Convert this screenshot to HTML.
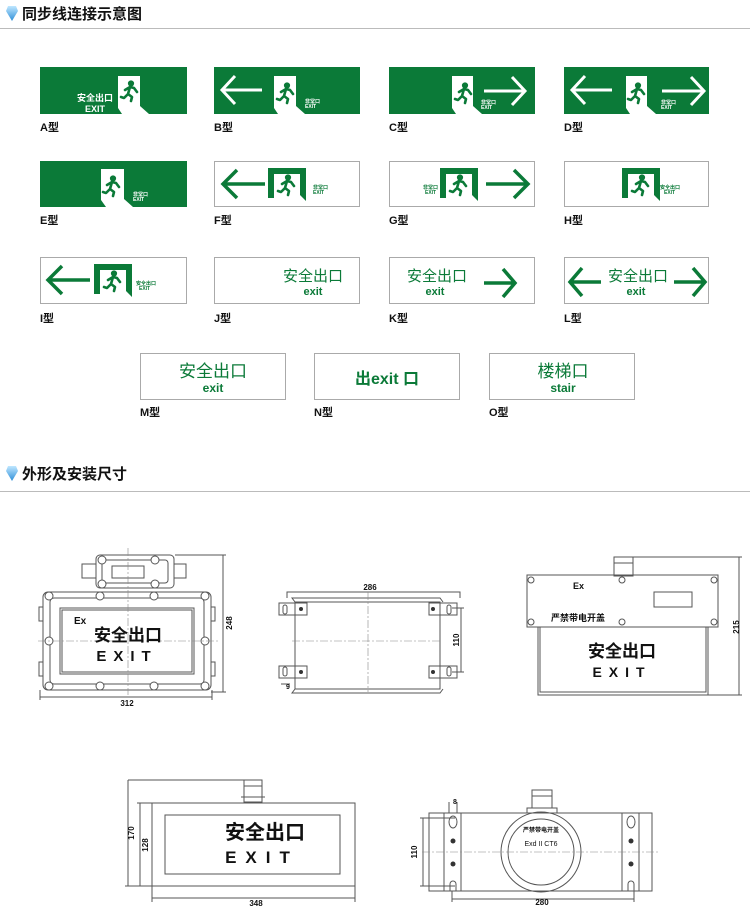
<!DOCTYPE html>
<html><head><meta charset="utf-8"><style>
body{margin:0;background:#fff;width:750px;height:913px;overflow:hidden}
svg{display:block}
.h{font-family:"Liberation Sans","Noto Sans CJK SC",sans-serif;font-weight:bold;font-size:15px;fill:#111}
.lb{font-family:"Liberation Sans","Noto Sans CJK SC",sans-serif;font-weight:bold;font-size:11px;fill:#111}
.gt{font-family:"Liberation Sans","Noto Sans CJK SC",sans-serif;font-weight:bold;fill:#0b7a38}
.gn{font-family:"Liberation Sans","Noto Sans CJK SC",sans-serif;font-weight:500;fill:#0b7a38}
.wt{font-family:"Liberation Sans","Noto Sans CJK SC",sans-serif;font-weight:bold;fill:#fff}
.dt{font-family:"Liberation Sans","Noto Sans CJK SC",sans-serif;fill:#111}
.d{fill:none;stroke:#555;stroke-width:1}
.c{fill:none;stroke:#888;stroke-width:.6;stroke-dasharray:8 2 2 2}
</style></head><body>
<svg width="750" height="913" viewBox="0 0 750 913" xmlns="http://www.w3.org/2000/svg">
<defs>
<g id="man"><circle cx="9" cy="2.5" r="2.6"/><path d="M3 9 L8 6 L12 7 L15 11 M8 6 L6 13 L10 16 L9 20 M6 13 L2 17 L-1 16" fill="none" stroke-width="2.6" stroke-linecap="round" stroke-linejoin="round"/></g>
<linearGradient id="gm" x1="0" y1="0" x2="0" y2="1"><stop offset="0" stop-color="#bfe7ff"/><stop offset="1" stop-color="#2f8fd8"/></linearGradient>
</defs>
<path d="M8 6 L16 6 L18 11 L12 21 L6 11 Z" fill="url(#gm)"/>
<text x="22" y="19" class="h">同步线连接示意图</text>
<line x1="0" y1="28.5" x2="750" y2="28.5" stroke="#bbb"/>
<path d="M8 466 L16 466 L18 471 L12 481 L6 471 Z" fill="url(#gm)"/>
<text x="22" y="479" class="h">外形及安装尺寸</text>
<line x1="0" y1="491.5" x2="750" y2="491.5" stroke="#bbb"/>

<rect x="40" y="67" width="147" height="47" fill="#0b7a38"/>
<path d="M118 76 H140 V106 L149 114 H122 L118 108 Z" fill="#fff"/>
<use href="#man" x="122" y="81" fill="#0b7a38" stroke="#0b7a38"/>
<text x="95" y="101" class="wt" font-size="9" text-anchor="middle">安全出口</text>
<text x="95" y="112" class="wt" font-size="9" text-anchor="middle">EXIT</text>
<text x="40" y="131" class="lb">A型</text>

<rect x="214" y="67" width="146" height="47" fill="#0b7a38"/>
<path d="M262 90 H222 M235 76 L222 90 L235 104" fill="none" stroke="#fff" stroke-width="3"/>
<path d="M274 76 H296 V106 L305 114 H278 L274 108 Z" fill="#fff"/>
<use href="#man" x="278" y="83" fill="#0b7a38" stroke="#0b7a38"/>
<text x="305" y="103" class="wt" font-size="5">非常口</text><text x="305" y="108" class="wt" font-size="5">EXIT</text>
<text x="214" y="131" class="lb">B型</text>

<rect x="389" y="67" width="146" height="47" fill="#0b7a38"/>
<path d="M452 76 H473 V106 L482 114 H456 L452 108 Z" fill="#fff"/>
<use href="#man" x="456" y="83" fill="#0b7a38" stroke="#0b7a38"/>
<text x="481" y="104" class="wt" font-size="5">非常口</text><text x="481" y="109" class="wt" font-size="5">EXIT</text>
<path d="M484 91 H524 M512 77 L525 91 L512 105" fill="none" stroke="#fff" stroke-width="3"/>
<text x="389" y="131" class="lb">C型</text>

<rect x="564" y="67" width="145" height="47" fill="#0b7a38"/>
<path d="M612 90 H572 M585 76 L572 90 L585 104" fill="none" stroke="#fff" stroke-width="3"/>
<path d="M626 76 H647 V106 L656 114 H630 L626 108 Z" fill="#fff"/>
<use href="#man" x="629" y="83" fill="#0b7a38" stroke="#0b7a38"/>
<text x="661" y="104" class="wt" font-size="5">非常口</text><text x="661" y="109" class="wt" font-size="5">EXIT</text>
<path d="M662 91 H703 M691 77 L704 91 L691 105" fill="none" stroke="#fff" stroke-width="3"/>
<text x="564" y="131" class="lb">D型</text>

<rect x="40" y="161" width="147" height="46" fill="#0b7a38"/>
<path d="M101 169 H124 V199 L133 207 H106 L101 200 Z" fill="#fff"/>
<use href="#man" x="104" y="176" fill="#0b7a38" stroke="#0b7a38"/>
<text x="133" y="196" class="wt" font-size="5">非常口</text><text x="133" y="201" class="wt" font-size="5">EXIT</text>
<text x="40" y="224" class="lb">E型</text>

<rect x="214.5" y="161.5" width="145" height="45" fill="#fff" stroke="#aaa"/>
<path d="M265 184 H223 M237 170 L223 184 L237 198" fill="none" stroke="#0b7a38" stroke-width="3.5"/>
<path d="M268 168 H306 V201 L300 195 V174 H274 V198 H268 Z" fill="#0b7a38"/>
<use href="#man" x="279" y="175" fill="#0b7a38" stroke="#0b7a38"/>
<text x="313" y="189" class="gt" font-size="5">非常口</text><text x="313" y="194" class="gt" font-size="5">EXIT</text>
<text x="214" y="224" class="lb">F型</text>

<rect x="389.5" y="161.5" width="145" height="45" fill="#fff" stroke="#aaa"/>
<text x="423" y="189" class="gt" font-size="5">非常口</text><text x="425" y="194" class="gt" font-size="5">EXIT</text>
<path d="M440 168 H478 V201 L472 195 V174 H446 V198 H440 Z" fill="#0b7a38"/>
<use href="#man" x="451" y="175" fill="#0b7a38" stroke="#0b7a38"/>
<path d="M486 184 H527 M514 170 L528 184 L514 198" fill="none" stroke="#0b7a38" stroke-width="3.5"/>
<text x="389" y="224" class="lb">G型</text>

<rect x="564.5" y="161.5" width="144" height="45" fill="#fff" stroke="#aaa"/>
<path d="M622 168 H660 V201 L654 195 V174 H628 V198 H622 Z" fill="#0b7a38"/>
<use href="#man" x="633" y="175" fill="#0b7a38" stroke="#0b7a38"/>
<text x="660" y="189" class="gt" font-size="5">安全出口</text><text x="664" y="194" class="gt" font-size="5">EXIT</text>
<text x="564" y="224" class="lb">H型</text>

<rect x="40.5" y="257.5" width="146" height="46" fill="#fff" stroke="#aaa"/>
<path d="M90 280 H48 M62 266 L48 280 L62 294" fill="none" stroke="#0b7a38" stroke-width="3.5"/>
<path d="M94 264 H132 V297 L126 291 V270 H100 V294 H94 Z" fill="#0b7a38"/>
<use href="#man" x="105" y="271" fill="#0b7a38" stroke="#0b7a38"/>
<text x="136" y="285" class="gt" font-size="5">安全出口</text><text x="139" y="290" class="gt" font-size="5">EXIT</text>
<text x="40" y="322" class="lb">I型</text>

<rect x="214.5" y="257.5" width="145" height="46" fill="#fff" stroke="#aaa"/>
<text x="313" y="281" class="gn" font-size="15" text-anchor="middle" style="font-weight:normal">安全出口</text>
<text x="313" y="295" class="gt" font-size="11" text-anchor="middle">exit</text>
<text x="214" y="322" class="lb">J型</text>

<rect x="389.5" y="257.5" width="145" height="46" fill="#fff" stroke="#aaa"/>
<text x="437" y="281" class="gn" font-size="15" text-anchor="middle" style="font-weight:normal">安全出口</text>
<text x="435" y="295" class="gt" font-size="11" text-anchor="middle">exit</text>
<path d="M484 283 H514 M503 269 L515 283 L503 297" fill="none" stroke="#0b7a38" stroke-width="3.5"/>
<text x="389" y="322" class="lb">K型</text>

<rect x="564.5" y="257.5" width="144" height="46" fill="#fff" stroke="#aaa"/>
<path d="M601 282 H570 M582 268 L570 282 L582 296" fill="none" stroke="#0b7a38" stroke-width="3.5"/>
<text x="638" y="281" class="gn" font-size="15" text-anchor="middle" style="font-weight:normal">安全出口</text>
<text x="636" y="295" class="gt" font-size="11" text-anchor="middle">exit</text>
<path d="M674 282 H704 M693 268 L705 282 L693 296" fill="none" stroke="#0b7a38" stroke-width="3.5"/>
<text x="564" y="322" class="lb">L型</text>

<rect x="140.5" y="353.5" width="145" height="46" fill="#fff" stroke="#aaa"/>
<text x="213" y="377" class="gn" font-size="17" text-anchor="middle" style="font-weight:normal">安全出口</text>
<text x="213" y="392" class="gt" font-size="12" text-anchor="middle">exit</text>
<text x="140" y="416" class="lb">M型</text>

<rect x="314.5" y="353.5" width="145" height="46" fill="#fff" stroke="#aaa"/>
<text x="387" y="384" class="gt" font-size="16" text-anchor="middle">出exit 口</text>
<text x="314" y="416" class="lb">N型</text>

<rect x="489.5" y="353.5" width="145" height="46" fill="#fff" stroke="#aaa"/>
<text x="563" y="377" class="gn" font-size="17" text-anchor="middle" style="font-weight:normal">楼梯口</text>
<text x="563" y="392" class="gt" font-size="12" text-anchor="middle">stair</text>
<text x="489" y="416" class="lb">O型</text>

<g class="d">
<rect x="96" y="555" width="78" height="33" rx="4"/>
<rect x="102" y="560" width="66" height="23" rx="3"/>
<rect x="112" y="566" width="32" height="12"/>
<rect x="82" y="564" width="14" height="14"/><rect x="174" y="564" width="12" height="14"/>
<rect x="43" y="592" width="168" height="98" rx="5"/>
<rect x="50" y="598" width="154" height="86" rx="4"/>
<rect x="60" y="608" width="134" height="66"/>
<rect x="62" y="610" width="130" height="62"/>
<rect x="39" y="607" width="4" height="14"/><rect x="39" y="662" width="4" height="14"/>
<rect x="211" y="607" width="4" height="14"/><rect x="211" y="662" width="4" height="14"/>
</g>
<g fill="#fff" stroke="#555">
<circle cx="102" cy="560" r="4"/><circle cx="155" cy="560" r="4"/><circle cx="102" cy="584" r="4"/><circle cx="155" cy="584" r="4"/>
<circle cx="49" cy="596" r="4"/><circle cx="100" cy="596" r="4"/><circle cx="154" cy="596" r="4"/><circle cx="205" cy="596" r="4"/>
<circle cx="49" cy="641" r="4"/><circle cx="205" cy="641" r="4"/>
<circle cx="49" cy="686" r="4"/><circle cx="100" cy="686" r="4"/><circle cx="154" cy="686" r="4"/><circle cx="205" cy="686" r="4"/>
</g>
<line x1="128" y1="548" x2="128" y2="695" class="c"/><line x1="38" y1="641" x2="218" y2="641" class="c"/>
<text x="74" y="624" class="dt" font-size="10" font-weight="bold">Ex</text>
<text x="128" y="641" class="dt" font-size="17" font-weight="bold" text-anchor="middle">安全出口</text>
<text x="127" y="661" class="dt" font-size="15" font-weight="bold" text-anchor="middle" letter-spacing="7">EXIT</text>
<g class="d"><path d="M175 555 H226 M211 692 H226 M223 555 V692 M40 690 V700 M212 690 V700 M40 697 H212"/></g>
<text x="127" y="706" class="dt" font-size="8" font-weight="bold" text-anchor="middle">312</text>
<text x="232" y="623" class="dt" font-size="8" font-weight="bold" text-anchor="middle" transform="rotate(-90 232 623)">248</text>

<g class="d">
<rect x="295" y="602" width="145" height="87"/>
<path d="M295 602 L292 598 H440 L443 602 M295 689 L292 693 H440 L443 689"/>
<rect x="279" y="603" width="28" height="12"/><rect x="279" y="666" width="28" height="12"/>
<rect x="429" y="603" width="28" height="12"/><rect x="429" y="666" width="28" height="12"/>
<rect x="283" y="605" width="4" height="9" rx="2"/><rect x="283" y="667" width="4" height="9" rx="2"/>
<rect x="447" y="605" width="4" height="9" rx="2"/><rect x="447" y="667" width="4" height="9" rx="2"/>
<path d="M287 598 V592 H460 V598 M452 608 H464 M452 672 H464 M461 608 V672 M281 684 H290"/>
</g>
<g fill="#333"><circle cx="301" cy="609" r="2"/><circle cx="301" cy="672" r="2"/><circle cx="433" cy="609" r="2"/><circle cx="433" cy="672" r="2"/></g>
<line x1="368" y1="592" x2="368" y2="692" class="c"/><line x1="292" y1="641" x2="442" y2="641" class="c"/>
<text x="370" y="590" class="dt" font-size="8" font-weight="bold" text-anchor="middle">286</text>
<text x="459" y="640" class="dt" font-size="8" font-weight="bold" text-anchor="middle" transform="rotate(-90 459 640)">110</text>
<text x="286" y="689" class="dt" font-size="7" font-weight="bold">9</text>

<g class="d">
<rect x="614" y="557" width="19" height="19"/><path d="M614 563 H633"/>
<rect x="527" y="575" width="191" height="52"/>
<path d="M538 627 V695 H708 V627 M540 627 V692 H706 V627"/>
<rect x="654" y="592" width="38" height="15"/>
<path d="M633 557 H742 M708 695 H742 M739 557 V695"/>
</g>
<g class="d"><circle cx="531" cy="580" r="3"/><circle cx="622" cy="580" r="3"/><circle cx="714" cy="580" r="3"/><circle cx="531" cy="622" r="3"/><circle cx="622" cy="622" r="3"/><circle cx="714" cy="622" r="3"/></g>
<text x="573" y="589" class="dt" font-size="9" font-weight="bold">Ex</text>
<text x="551" y="621" class="dt" font-size="9" font-weight="bold">严禁带电开盖</text>
<text x="622" y="657" class="dt" font-size="17" font-weight="bold" text-anchor="middle">安全出口</text>
<text x="622" y="677" class="dt" font-size="14" font-weight="bold" text-anchor="middle" letter-spacing="7">EXIT</text>
<text x="739" y="627" class="dt" font-size="8" font-weight="bold" text-anchor="middle" transform="rotate(-90 739 627)">215</text>

<g class="d">
<rect x="244" y="780" width="18" height="22"/><path d="M244 786 H262 M241 797 H265"/>
<rect x="152" y="803" width="203" height="83"/>
<rect x="165" y="815" width="175" height="59"/>
<path d="M140 803 V886 M128 780 V886 M128 780 H244 M125 886 H152 M137 803 H152 M152 886 V902 M355 886 V902 M152 898 H355"/>
</g>
<text x="265" y="839" class="dt" font-size="20" font-weight="bold" text-anchor="middle">安全出口</text>
<text x="262" y="863" class="dt" font-size="17" font-weight="bold" text-anchor="middle" letter-spacing="9">EXIT</text>
<text x="256" y="906" class="dt" font-size="8" font-weight="bold" text-anchor="middle">348</text>
<text x="134" y="833" class="dt" font-size="8" font-weight="bold" text-anchor="middle" transform="rotate(-90 134 833)">170</text>
<text x="148" y="845" class="dt" font-size="8" font-weight="bold" text-anchor="middle" transform="rotate(-90 148 845)">128</text>

<g class="d">
<rect x="532" y="790" width="20" height="18"/><path d="M532 796 H552"/>
<rect x="527" y="808" width="30" height="5"/>
<rect x="429" y="813" width="223" height="78"/>
<path d="M444 813 V891 M461 813 V891 M622 813 V891 M639 813 V891"/>
<circle cx="541" cy="852" r="40"/><circle cx="541" cy="852" r="33"/>
<path d="M449 802 V813 M457 802 V813 M420 818 H455 M420 886 H455 M423 818 V886 M452 891 V902 M634 891 V902 M452 899 H634"/>
<ellipse cx="453" cy="822" rx="4" ry="6"/><ellipse cx="631" cy="822" rx="4" ry="6"/>
<path d="M450 891 V884 A3 3 0 0 1 456 884 V891 M628 891 V884 A3 3 0 0 1 634 884 V891"/>
</g>
<g fill="#333"><circle cx="453" cy="841" r="2.5"/><circle cx="453" cy="864" r="2.5"/><circle cx="631" cy="841" r="2.5"/><circle cx="631" cy="864" r="2.5"/></g>
<line x1="422" y1="852" x2="658" y2="852" class="c"/>
<text x="541" y="832" class="dt" font-size="6" font-weight="bold" text-anchor="middle">严禁带电开盖</text>
<text x="541" y="846" class="dt" font-size="7" text-anchor="middle">Exd II CT6</text>
<text x="455" y="804" class="dt" font-size="7" font-weight="bold" text-anchor="middle">8</text>
<text x="542" y="905" class="dt" font-size="8" font-weight="bold" text-anchor="middle">280</text>
<text x="417" y="852" class="dt" font-size="8" font-weight="bold" text-anchor="middle" transform="rotate(-90 417 852)">110</text>
</svg>
</body></html>
